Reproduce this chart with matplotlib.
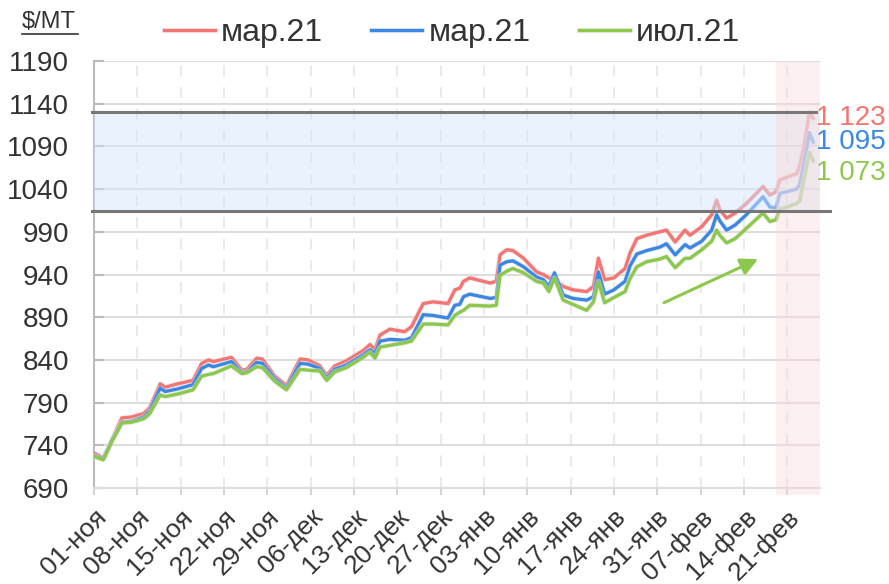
import numpy as np
import matplotlib
matplotlib.use('Agg')
import matplotlib.pyplot as plt
import matplotlib.patheffects as pe
from matplotlib.lines import Line2D

plt.rcParams['font.family'] = ['Liberation Sans', 'DejaVu Sans']

# days since 01-Nov
days = [0, 1.5, 3, 4.5, 6, 8, 9, 10.7, 11.5, 13.5, 16, 17.4, 18.5, 19.3, 22.2,
        23.9, 24.7, 26.3, 27.2, 29.2, 31.1, 33.3, 34.6, 36.5, 37.6, 38.9, 40.8,
        43.5, 44.6, 45.4, 46.2, 47.8, 50.2, 51.3, 53.2, 54.8, 57.2, 58.3, 59.1,
        59.7, 60.7, 64, 65, 65.6, 66.7, 67.7, 69.4, 71.5, 72.6, 73.5, 74.4, 75.8,
        77.4, 79.6, 80.7, 81.5, 82.5, 84, 85.8, 86.6, 87.7, 89.3, 91.4, 92.5,
        93.9, 95.5, 96.3, 98.2, 99.8, 100.6, 101.1, 102.2, 103.6, 105.4, 108.1,
        109.2, 110.2, 110.8, 112, 113.5, 114, 114.8, 115.6, 116.2]
red = [731, 725, 748, 772, 773, 777, 784, 812, 808, 812, 816, 836, 840, 838, 843,
       828, 829, 842, 841, 821, 810, 841, 840, 833, 822, 833, 839,
       851, 858, 852, 869, 876, 873, 879, 906, 908, 906, 922, 924,
       932, 936, 930, 932, 963, 969, 968, 959, 943, 940, 936, 934, 926,
       922, 920, 926, 959, 934, 936, 947, 965, 982, 986, 990, 992,
       978, 992, 986, 996, 1010, 1027, 1016, 1006, 1012, 1023, 1043,
       1033, 1037, 1051, 1054, 1058, 1066, 1094, 1130, 1123]
blue = [728, 724, 747, 767, 768, 773, 780, 807, 803, 806, 811, 830, 834, 832, 838,
        825, 826, 837, 836, 818, 807, 836, 835, 830, 819, 829, 834,
        846, 852, 847, 862, 864, 863, 866, 893, 892, 889, 904, 905,
        914, 917, 912, 913, 951, 955, 956, 949, 937, 934, 926, 942, 916,
        912, 910, 914, 943, 917, 922, 932, 950, 964, 968, 972, 976,
        963, 975, 971, 979, 992, 1010, 1003, 992, 998, 1010, 1031,
        1019, 1018, 1035, 1037, 1040, 1045, 1074, 1106, 1095]
green = [727, 723, 746, 766, 767, 771, 777, 799, 797, 800, 805, 821, 823, 824, 833,
         824, 825, 832, 831, 815, 805, 829, 828, 827, 816, 826, 831,
         843, 849, 842, 855, 857, 860, 862, 882, 882, 881, 892, 896,
         898, 904, 903, 904, 939, 944, 947, 942, 932, 930, 920, 936, 910,
         905, 898, 908, 932, 907, 913, 920, 935, 949, 955, 958, 961,
         948, 959, 959, 969, 979, 992, 986, 977, 982, 994, 1012,
         1002, 1004, 1017, 1019, 1023, 1026, 1054, 1083, 1073]
series_names = ['мар.21', 'мар.21', 'июл.21']
series_colors = ['#f47572', '#3a87e6', '#8cc84b']

tick_days = list(range(0, 113, 7))
tick_labels = ['01-ноя', '08-ноя', '15-ноя', '22-ноя', '29-ноя', '06-дек', '13-дек',
               '20-дек', '27-дек', '03-янв', '10-янв', '17-янв', '24-янв', '31-янв',
               '07-фев', '14-фев', '21-фев']
y_ticks = list(range(690, 1191, 50))

range_low, range_high = 1014, 1130
last_week = (110.2, 117.3)
trend_start = (92.1, 907)
trend_end = (107.3, 958)

txt = '#333333'
fig = plt.figure(figsize=(8.89, 5.84), dpi=100)
ax = fig.add_axes([94/889, 1-488/584, 726/889, 427/584])
ax.set_xlim(0, 117.3)
ax.set_ylim(690, 1190)

for s, c, n in zip([red, blue, green], series_colors, series_names):
    ax.plot(days, s, color=c, lw=2.4, label=n, solid_joinstyle='round', zorder=3,
            path_effects=[pe.Stroke(linewidth=3.8, foreground='#e0e0e0', alpha=0.5), pe.Normal()])

# bands over the lines
ax.axhspan(range_low, range_high, color=(0.84, 0.90, 0.99), alpha=0.5, lw=0, zorder=4)
ax.axvspan(*last_week, ymin=-0.016, ymax=0.997, color=(0.98, 0.85, 0.85), alpha=0.42,
           lw=0, zorder=4, clip_on=False)
ax.plot([-0.3, 116.7], [range_high]*2, color='#777777', lw=2.2, zorder=5, clip_on=False)
ax.plot([-0.3, 118.9], [range_low]*2, color='#777777', lw=2.2, zorder=5, clip_on=False)

ax.annotate('', xy=trend_end, xytext=trend_start, zorder=6,
            arrowprops=dict(arrowstyle='-|>', color=series_colors[2], lw=2.2,
                            mutation_scale=26, shrinkA=0, shrinkB=0))

# end labels
offsets = [0, 0, -9]
for s, c, off in zip([red, blue, green], series_colors, offsets):
    ax.annotate(f'{s[-1]:,}'.replace(',', ' '), xy=(days[-1], s[-1]),
                xytext=(2, off), textcoords='offset points', color=c, fontsize=20,
                va='center', ha='left', annotation_clip=False, zorder=7)

ax.set_xticks(tick_days)
ax.set_xticklabels(tick_labels, rotation=45, ha='right', va='top', rotation_mode='anchor',
                   fontsize=19, color=txt)
ax.set_yticks(y_ticks)
ax.set_yticklabels([str(v) for v in y_ticks], fontsize=20, color=txt)
ax.tick_params(axis='x', length=5, width=1.2, color='#cccccc', pad=7)
ax.tick_params(axis='y', direction='in', length=7, width=1.5, color='#bbbbbb', pad=18)

ax.grid(axis='y', color='#dddddd', lw=1.5, zorder=0)
ax.grid(axis='x', color='#e8e8e8', lw=1.3, linestyle=(0, (6, 6)), zorder=0)
ax.set_axisbelow(True)
for sp in ['top', 'right']:
    ax.spines[sp].set_visible(False)
ax.spines['left'].set_color('#bbbbbb')
ax.spines['left'].set_linewidth(1.5)
ax.spines['bottom'].set_color('#dddddd')
ax.spines['bottom'].set_linewidth(1.5)

fig.legend(loc='center', bbox_to_anchor=(452/889, 1-33/584), ncol=3, frameon=False,
           fontsize=23, handlelength=1.6, handletextpad=0.2, columnspacing=1.5,
           labelcolor=txt)

fig.text(22/889, 1-22/584, '$/MT', fontsize=17, color=txt, va='center', ha='left')
fig.add_artist(Line2D([22/889, 78/889], [1-34/584]*2, color=txt, lw=1.2))

fig.savefig('out.png', dpi=100)
